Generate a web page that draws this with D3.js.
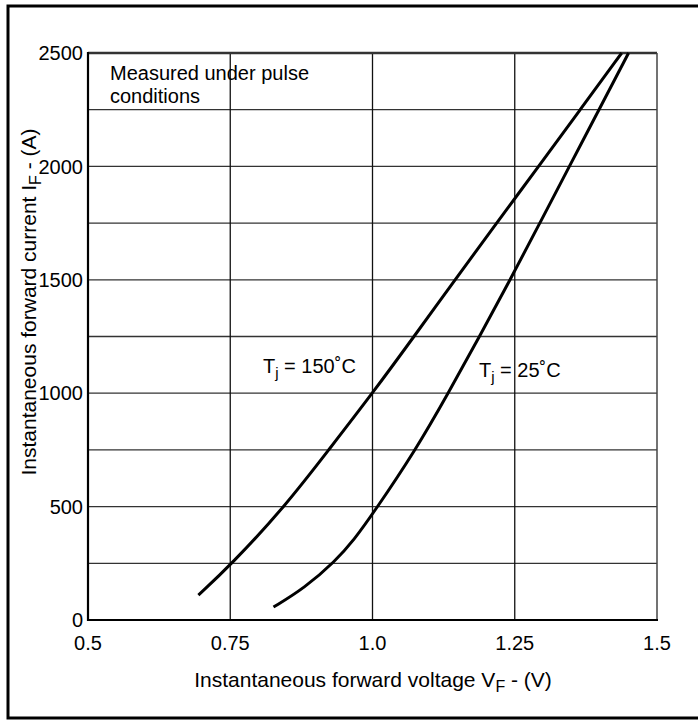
<!DOCTYPE html>
<html>
<head>
<meta charset="utf-8">
<script src="https://cdn.jsdelivr.net/npm/d3@7"></script>
<style>
  body { margin: 0; background: #fff; }
  svg { display: block; font-family: "Liberation Sans", Arial, sans-serif; }
</style>
</head>
<body>
<svg id="chart" width="698" height="720"></svg>
<script>
// Tj = 150 C curve
const voltsHot = [0.694, 0.75, 0.846, 0.923, 1.0, 1.073, 1.145, 1.218, 1.292, 1.365, 1.438];
const ampsHot = [110, 240, 500, 750, 1000, 1250, 1500, 1750, 2000, 2250, 2500];
// Tj = 25 C curve
const voltsCold = [0.826, 0.88, 0.935, 0.968, 1.0, 1.076, 1.133, 1.188, 1.242, 1.294, 1.346, 1.398, 1.45];
const ampsCold = [57, 140, 260, 355, 466, 750, 1000, 1250, 1500, 1750, 2000, 2250, 2500];

const xTicks = [0.5, 0.75, 1.0, 1.25, 1.5];
const xTickLabels = ["0.5", "0.75", "1.0", "1.25", "1.5"];
const yTicks = [0, 500, 1000, 1500, 2000, 2500];
const yGrid = [250, 500, 750, 1000, 1250, 1500, 1750, 2000, 2250];

const svg = d3.select("#chart");
const plotLeft = 88, plotRight = 657, plotTop = 53, plotBottom = 620;
const fontSize = 20;

const xScale = d3.scaleLinear().domain([0.5, 1.5]).range([plotLeft, plotRight]);
const yScale = d3.scaleLinear().domain([0, 2500]).range([plotBottom, plotTop]);

// outer frame
svg.append("rect")
  .attr("x", 8).attr("y", 6)
  .attr("width", 700).attr("height", 712)
  .attr("fill", "none")
  .attr("stroke", "#000")
  .attr("stroke-width", 3);

// grid
svg.append("g").selectAll("line")
  .data(yGrid)
  .join("line")
  .attr("x1", plotLeft).attr("x2", plotRight)
  .attr("y1", d => yScale(d)).attr("y2", d => yScale(d))
  .attr("stroke", "#333")
  .attr("stroke-width", 1.3);

svg.append("g").selectAll("line")
  .data([0.75, 1.0, 1.25])
  .join("line")
  .attr("x1", d => xScale(d)).attr("x2", d => xScale(d))
  .attr("y1", plotTop).attr("y2", plotBottom)
  .attr("stroke", "#111")
  .attr("stroke-width", 1.3);

// plot border
svg.append("line")
  .attr("x1", plotLeft).attr("x2", plotRight).attr("y1", plotTop).attr("y2", plotTop)
  .attr("stroke", "#333").attr("stroke-width", 2.5);
svg.append("line")
  .attr("x1", plotRight).attr("x2", plotRight).attr("y1", plotTop).attr("y2", plotBottom)
  .attr("stroke", "#444").attr("stroke-width", 1.5);
svg.append("line")
  .attr("x1", plotLeft).attr("x2", plotLeft).attr("y1", plotTop - 1).attr("y2", plotBottom + 1)
  .attr("stroke", "#000").attr("stroke-width", 2.2);
svg.append("line")
  .attr("x1", plotLeft - 1).attr("x2", plotRight + 1).attr("y1", plotBottom).attr("y2", plotBottom)
  .attr("stroke", "#000").attr("stroke-width", 2.2);

// tick labels
svg.append("g").selectAll("text")
  .data(yTicks)
  .join("text")
  .attr("x", plotLeft - 5)
  .attr("y", d => yScale(d))
  .attr("dy", "0.36em")
  .attr("text-anchor", "end")
  .attr("font-size", fontSize)
  .text(d => d);

svg.append("g").selectAll("text")
  .data(xTicks)
  .join("text")
  .attr("x", d => xScale(d))
  .attr("y", 650)
  .attr("text-anchor", "middle")
  .attr("font-size", fontSize)
  .text((d, i) => xTickLabels[i]);

// curves
const line = d3.line()
  .x(d => xScale(d[0]))
  .y(d => yScale(d[1]))
  .curve(d3.curveBasis);

[[voltsHot, ampsHot], [voltsCold, ampsCold]].forEach(([vs, is]) => {
  svg.append("path")
    .datum(vs.map((v, i) => [v, is[i]]))
    .attr("d", line)
    .attr("fill", "none")
    .attr("stroke", "#000")
    .attr("stroke-width", 3);
});

// annotations
const note = svg.append("text")
  .attr("font-size", fontSize);
note.append("tspan").attr("x", 110).attr("y", 80).text("Measured under pulse");
note.append("tspan").attr("x", 110).attr("y", 103).text("conditions");

function tjLabel(x, y, temp) {
  const t = svg.append("text")
    .attr("x", x).attr("y", y)
    .attr("font-size", fontSize);
  t.append("tspan").text("T");
  t.append("tspan").attr("dy", 5).attr("font-size", 15).text("j");
  t.append("tspan").attr("dy", -5).text(" = " + temp + "˚C");
}
tjLabel(263, 373, "150");
tjLabel(479, 377, "25");

// axis titles
const xTitle = svg.append("text")
  .attr("x", 373).attr("y", 687)
  .attr("text-anchor", "middle")
  .attr("font-size", 21);
xTitle.append("tspan").text("Instantaneous forward voltage V");
xTitle.append("tspan").attr("dy", 5).attr("font-size", 16).text("F");
xTitle.append("tspan").attr("dy", -5).text(" - (V)");

const yTitle = svg.append("text")
  .attr("transform", "translate(36," + 302 + ") rotate(-90)")
  .attr("text-anchor", "middle")
  .attr("font-size", 21);
yTitle.append("tspan").text("Instantaneous forward current I");
yTitle.append("tspan").attr("dy", 5).attr("font-size", 16).text("F");
yTitle.append("tspan").attr("dy", -5).text(" - (A)");
</script>
</body>
</html>
